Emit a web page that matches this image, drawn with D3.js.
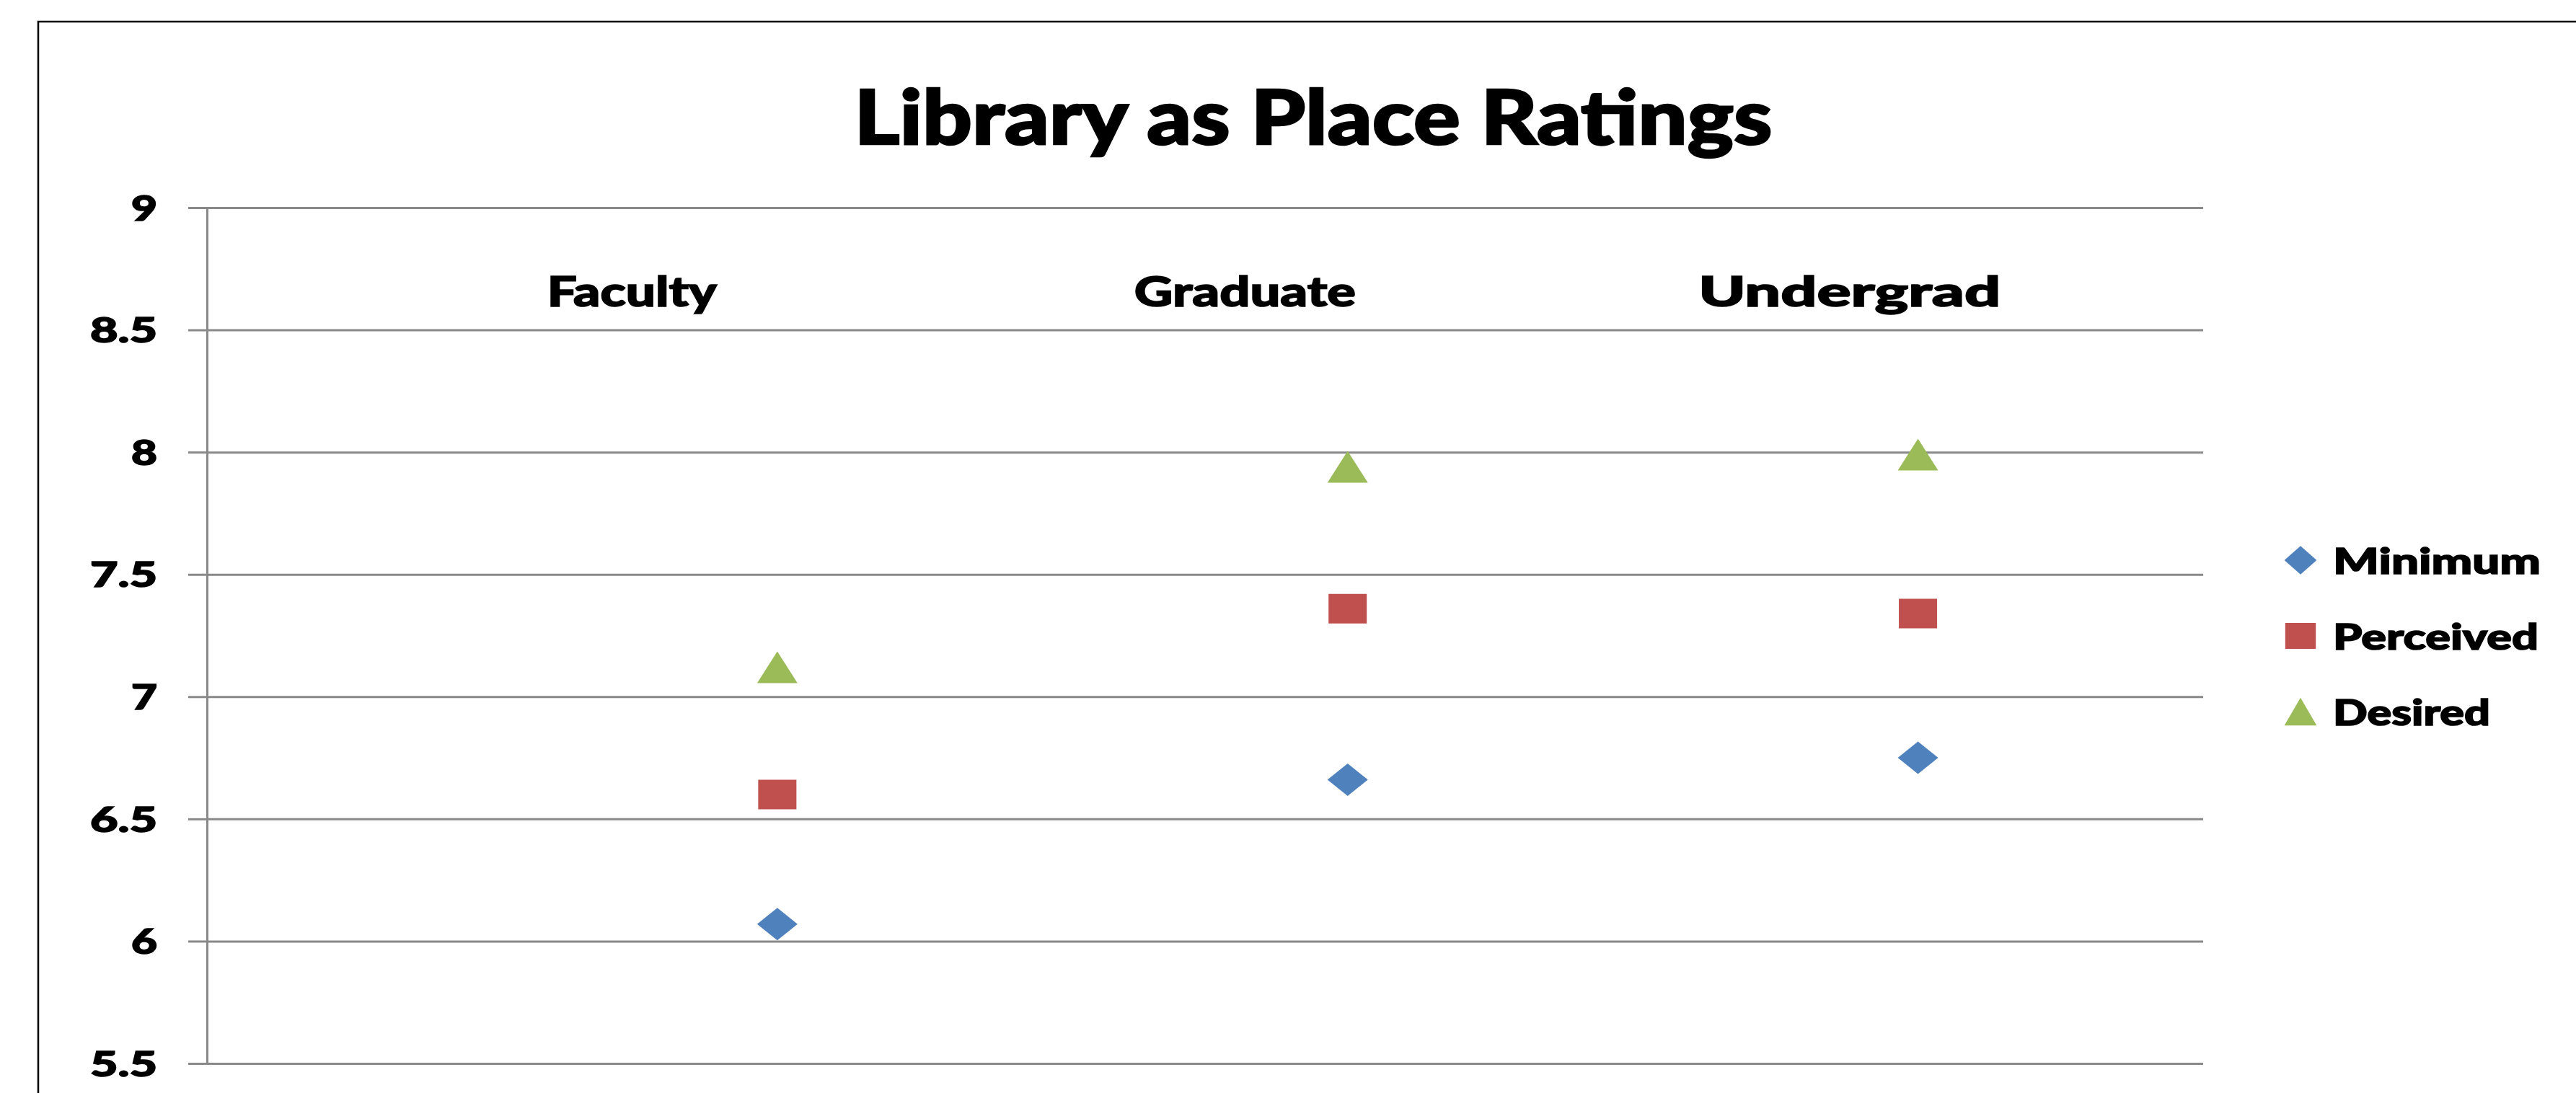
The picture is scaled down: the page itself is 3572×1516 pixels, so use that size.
<!DOCTYPE html>
<html>
<head>
<meta charset="utf-8">
<script src="https://cdn.jsdelivr.net/npm/d3@7"></script>
<style>
  body { margin: 0; background: #fff; }
  svg { display: block; }
  text { font-family: Lato, "Liberation Sans", sans-serif; font-weight: 900; fill: #000; stroke: #000; stroke-width: 1.6px; }
</style>
</head>
<body>
<svg width="3572" height="1516"></svg>
<script>
// values
var groups = ['Faculty', 'Graduate', 'Undergrad'];
var groupX = [1, 2, 3];
var labelX = [0.745, 1.82, 2.88];
var minimum = [6.07, 6.66, 6.75];
var perceived = [6.6, 7.36, 7.34];
var desired = [7.12, 7.94, 7.99];
var seriesNames = ['Minimum', 'Perceived', 'Desired'];
var seriesColors = ['#4f81bd', '#c0504d', '#9bbb59'];
var yTicks = [5.5, 6, 6.5, 7, 7.5, 8, 8.5, 9];

var svg = d3.select('svg');

var x = d3.scaleLinear().domain([0, 3.5]).range([287, 3055]);
var y = d3.scaleLinear().domain([5.5, 9]).range([1475, 288]);

// outer chart border (runs off the bottom and right of the picture)
svg.append('rect')
    .attr('x', 53).attr('y', 30)
    .attr('width', 3600).attr('height', 1600)
    .attr('fill', 'none')
    .attr('stroke', '#000')
    .attr('stroke-width', 2.5);

function fit(sel, w) {
    sel.attr('textLength', w).attr('lengthAdjust', 'spacingAndGlyphs');
}

svg.append('text')
    .attr('x', 1821).attr('y', 200)
    .attr('text-anchor', 'middle')
    .style('font-size', '104px')
    .style('stroke-width', '2.5px')
    .text('Library as Place Ratings')
    .call(fit, 1273);

// gridlines
var grid = svg.append('g')
    .attr('transform', 'translate(' + x(0) + ',0)')
    .call(d3.axisLeft(y).tickValues(yTicks).tickSize(-(x(3.5) - x(0))).tickFormat(''));
grid.select('.domain').remove();
grid.selectAll('line').attr('stroke', '#898989').attr('stroke-width', 3);

// y axis with outer ticks
var yAxis = svg.append('g')
    .attr('transform', 'translate(' + x(0) + ',0)')
    .call(d3.axisLeft(y).tickValues(yTicks).tickSize(26).tickSizeOuter(0).tickPadding(43)
        .tickFormat(function(d) { return d; }));
yAxis.select('.domain').attr('stroke', '#898989').attr('stroke-width', 3);
yAxis.selectAll('line').attr('stroke', '#898989').attr('stroke-width', 3);
yAxis.selectAll('text')
    .style('font-size', '48px')
    .attr('dy', '0.36em')
    .each(function(d) {
        var w = String(d).length > 1 ? 93 : 36;
        d3.select(this).call(fit, w);
    });

// category labels
var labelW = [235, 307, 419];
svg.selectAll('.cat')
    .data(groups)
    .enter()
    .append('text')
    .attr('class', 'cat')
    .attr('x', function(d, i) { return x(labelX[i]); })
    .attr('y', 425)
    .attr('text-anchor', 'middle')
    .style('font-size', '58px')
    .text(function(d) { return d; })
    .each(function(d, i) { d3.select(this).call(fit, labelW[i]); });

// marker shapes, a bit wider than tall like the original
function markerPath(kind) {
    if (kind === 0) return 'M0,-22.5L28,0L0,22.5L-28,0Z';
    if (kind === 1) return 'M-26.5,-20.5L26.5,-20.5L26.5,20.5L-26.5,20.5Z';
    return 'M0,-22L28,22L-28,22Z';
}

var series = [minimum, perceived, desired];
series.forEach(function(vals, s) {
    svg.selectAll('.pt' + s)
        .data(vals)
        .enter()
        .append('path')
        .attr('class', 'pt' + s)
        .attr('d', markerPath(s))
        .attr('fill', seriesColors[s])
        .attr('transform', function(d, i) {
            return 'translate(' + x(groupX[i]) + ',' + y(d) + ')';
        });
});

// legend
var legendW = [288, 285, 218];
var legend = svg.selectAll('.legend')
    .data(seriesNames)
    .enter()
    .append('g')
    .attr('class', 'legend')
    .attr('transform', function(d, i) { return 'translate(3190,' + (777 + i * 105) + ')'; });

legend.append('path')
    .attr('d', function(d, i) { return markerPath(i); })
    .attr('fill', function(d, i) { return seriesColors[i]; })
    .attr('transform', 'scale(0.8,0.88)');

legend.append('text')
    .attr('x', 45)
    .attr('y', 19)
    .style('font-size', '50px')
    .text(function(d) { return d; })
    .each(function(d, i) { d3.select(this).call(fit, legendW[i]); });
</script>
</body>
</html>
